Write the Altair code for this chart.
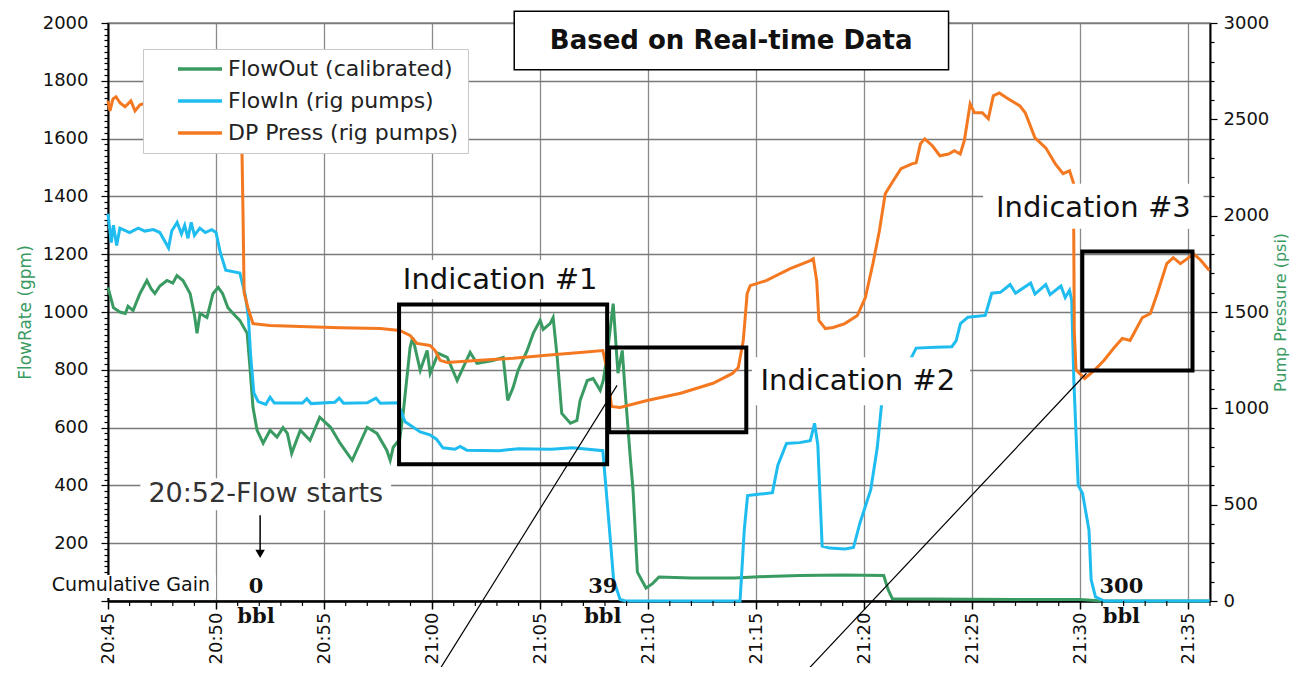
import datetime as dt
import altair as alt
import pandas as pd

SERIES = ["FlowOut (calibrated)", "FlowIn (rig pumps)", "DP Press (rig pumps)"]
COLORS = ["#3a9b62", "#1fbcf0", "#f47820"]

# time = minutes after 20:45, flow in gpm
flow_out_pts = [
    (0.0, 1085), (0.25, 1015), (0.55, 1000), (0.8, 995), (0.93, 1020), (1.16, 1005), (1.48, 1064),
    (1.8, 1109), (2.0, 1080), (2.17, 1064), (2.4, 1090), (2.73, 1109), (3.0, 1100), (3.19, 1126),
    (3.47, 1109), (3.8, 1064), (4.0, 990), (4.12, 926), (4.26, 995), (4.58, 981), (4.86, 1064),
    (5.1, 1085), (5.3, 1064), (5.55, 1015), (5.79, 995), (6.1, 971), (6.44, 926), (6.57, 808),
    (6.71, 670), (6.9, 591), (7.18, 546), (7.5, 591), (7.82, 567), (8.1, 600), (8.3, 580),
    (8.5, 511), (8.9, 591), (9.35, 556), (9.8, 636), (10.3, 601), (10.74, 546), (11.3, 487),
    (11.99, 601), (12.45, 580), (12.9, 522), (13.06, 487), (13.2, 532), (13.5, 560), (13.66, 649),
    (13.98, 877), (14.1, 912), (14.45, 798), (14.77, 867), (14.91, 788), (15.28, 857), (15.7, 843),
    (16.16, 763), (16.44, 808), (16.76, 860), (17.08, 822), (17.36, 826), (17.82, 832), (18.29, 843),
    (18.5, 694), (18.75, 739), (18.98, 798), (19.4, 867), (19.68, 926), (20.0, 971), (20.14, 940),
    (20.46, 960), (20.6, 981), (20.79, 843), (21.0, 649), (21.4, 615), (21.7, 625), (21.85, 694),
    (22.18, 763), (22.45, 770), (22.78, 729), (22.92, 763), (23.1, 850), (23.38, 1029), (23.6, 788),
    (23.8, 867), (23.93, 729), (24.17, 497), (24.3, 383), (24.5, 100), (24.9, 45), (25.2, 60),
    (25.5, 83), (27.0, 80), (29.0, 80), (30.5, 85), (32.0, 88), (34.0, 90), (35.9, 88), (36.1, 40),
    (36.3, 8), (40.0, 6), (45.0, 5), (46.0, 0), (51.0, 0),
]

flow_in_pts = [
    (0.0, 1340), (0.15, 1240), (0.25, 1300), (0.4, 1230), (0.55, 1290), (1.0, 1275), (1.4, 1290),
    (1.7, 1280), (2.1, 1285), (2.4, 1275), (2.8, 1222), (2.95, 1280), (3.2, 1310), (3.4, 1270),
    (3.55, 1300), (3.7, 1255), (3.85, 1310), (4.0, 1265), (4.25, 1290), (4.5, 1275), (4.8, 1285),
    (5.0, 1275), (5.2, 1205), (5.45, 1145), (6.1, 1135), (6.35, 1060), (6.5, 980), (6.6, 850),
    (6.75, 720), (6.95, 690), (7.3, 680), (7.5, 705), (7.7, 685), (9.0, 685), (9.2, 700),
    (9.4, 683), (10.5, 688), (10.7, 702), (10.9, 684), (12.0, 686), (12.4, 702), (12.6, 684),
    (13.4, 686), (13.75, 620), (14.45, 585), (14.9, 575), (15.2, 560), (15.5, 530), (16.05, 525),
    (16.3, 535), (16.6, 522), (18.1, 520), (19.0, 527), (20.5, 525), (21.5, 530), (22.9, 520),
    (23.15, 300), (23.4, 73), (23.7, 5), (23.95, 0), (29.25, 0), (29.45, 250), (29.6, 365),
    (30.2, 370), (30.75, 375), (31.0, 470), (31.4, 545), (32.0, 548), (32.5, 555), (32.7, 615),
    (32.85, 540), (33.05, 190), (33.4, 183), (34.1, 180), (34.5, 185), (34.8, 270), (35.3, 385),
    (35.6, 530), (35.8, 680), (37.2, 845), (37.4, 875), (38.3, 878), (39.05, 880), (39.25, 900),
    (39.45, 960), (39.8, 982), (40.6, 988), (40.9, 1065), (41.3, 1068), (41.75, 1095), (42.0, 1065),
    (42.7, 1100), (42.9, 1062), (43.4, 1095), (43.6, 1060), (44.1, 1090), (44.3, 1050), (44.5, 1075),
    (44.6, 1040), (44.7, 760), (44.9, 400), (45.1, 373), (45.4, 245), (45.5, 73), (45.7, 14),
    (46.1, 0), (51.0, 0),
]

# pump pressure in psi
press_pts = [
    (0.0, 2596), (0.09, 2544), (0.23, 2606), (0.37, 2617), (0.56, 2585), (0.79, 2565), (1.06, 2596),
    (1.25, 2544), (1.48, 2575), (1.62, 2580), (3.5, 2580), (6.11, 2575), (6.2, 2340), (6.25, 2000),
    (6.3, 1600), (6.48, 1520), (6.71, 1440), (7.5, 1430), (8.9, 1425), (10.74, 1418), (12.6, 1414),
    (13.5, 1404), (13.98, 1378), (14.3, 1337), (14.9, 1326), (15.14, 1300), (15.37, 1249),
    (15.7, 1238), (17.2, 1249), (18.75, 1260), (20.3, 1275), (21.85, 1290), (22.9, 1300),
    (23.1, 1200), (23.3, 1010), (23.7, 1005), (24.95, 1041), (26.5, 1078), (28.0, 1130),
    (28.9, 1181), (29.17, 1212), (29.4, 1352), (29.58, 1596), (29.72, 1637), (30.46, 1663),
    (31.57, 1725), (32.5, 1767), (32.64, 1777), (32.8, 1660), (32.9, 1456), (33.2, 1414),
    (33.56, 1420), (34.1, 1440), (34.68, 1482), (35.05, 1575), (35.4, 1751), (35.7, 1922),
    (35.97, 2114), (36.34, 2181), (36.7, 2244), (37.2, 2269), (37.4, 2275), (37.6, 2373),
    (37.8, 2399), (38.15, 2363), (38.5, 2311), (38.9, 2320), (39.17, 2337), (39.44, 2320),
    (39.63, 2389), (39.9, 2580), (40.1, 2534), (40.46, 2534), (40.74, 2503), (40.97, 2622),
    (41.25, 2637), (41.6, 2611), (42.2, 2570), (42.45, 2534), (42.9, 2404), (43.4, 2352),
    (43.84, 2269), (44.2, 2218), (44.5, 2233), (44.68, 2171), (44.72, 1400), (44.8, 1200),
    (45.2, 1155), (45.65, 1197), (46.1, 1250), (46.57, 1316), (46.94, 1363), (47.3, 1352),
    (47.87, 1471), (48.24, 1492), (48.56, 1596), (49.0, 1751), (49.3, 1782), (49.63, 1751),
    (49.95, 1777), (50.23, 1803), (50.56, 1770), (50.97, 1715),
]

x_major_minutes = list(range(0, 51, 5))
x_minor_minutes = [m for m in range(0, 52) if m % 5 != 0]
flow_ticks = list(range(0, 2001, 20))
press_ticks = list(range(0, 3001, 100))

# annotations (time in minutes after 20:45, flow in gpm)
ind_labels = ["Indication #1", "Indication #2", "Indication #3"]
ind_label_t = [18.15, 34.7, 45.6]
ind_label_f = [1112, 760, 1361]
ind_box_t1 = [13.47, 23.19, 45.09]
ind_box_t2 = [23.1, 29.54, 50.19]
ind_box_f1 = [473, 584, 798]
ind_box_f2 = [1026, 877, 1209]

bg_t1 = [13.6, 29.8, 40.5, 1.5, -2.9]
bg_t2 = [23.0, 39.9, 50.7, 13.1, 5.0]
bg_f1 = [1045, 677, 1288, 314, 10]
bg_f2 = [1180, 843, 1444, 425, 90]

gain_labels = ["0", "39", "300"]
gain_t = [6.85, 22.9, 46.9]
gain_f = [50, 50, 50]
bbl_f = [-55, -55, -55]

diag_t1 = [23.56, 45.28]
diag_f1 = [746, 788]
diag_t2 = [15.05, 31.94]
diag_f2 = [-273, -273]

title_text = "Based on Real-time Data"
title_box = dict(t1=18.8, t2=38.9, f1=1838, f2=2041)
title_pos = dict(t=28.84, f=1938)

flow_start_text = "20:52-Flow starts"
flow_start_pos = dict(t=7.3, f=370)
arrow = dict(t=7.04, f1=297, f2=170, tip=163)
gain_title = dict(t=-2.6, f=55, text="Cumulative Gain")
minor_tick_f = (0, -17)

# ---------------------------------------------------------------
BASE = dt.datetime(2000, 1, 1, 20, 45)


def ts(m):
    return (BASE + dt.timedelta(minutes=m)).isoformat(timespec="milliseconds")


def dtobj(m):
    d = BASE + dt.timedelta(minutes=m)
    return alt.DateTime(year=d.year, month=d.month, date=d.day, hours=d.hour, minutes=d.minute)


def pts_df(pts, name):
    return pd.DataFrame({"t": [ts(p[0]) for p in pts], "v": [p[1] for p in pts], "series": name})


flows = pd.concat([pts_df(flow_out_pts, SERIES[0]), pts_df(flow_in_pts, SERIES[1])])
press = pts_df(press_pts, SERIES[2])

FONT = "DejaVu Sans"
xs = alt.Scale(domain=[dtobj(0), dtobj(51)], nice=False)
fs = alt.Scale(domain=[0, 2000], nice=False)
ps = alt.Scale(domain=[0, 3000], nice=False)
color_scale = alt.Scale(domain=SERIES, range=COLORS)

legend = alt.Legend(
    title=None, orient="none", legendX=35, legendY=26, symbolType="stroke",
    symbolSize=1936, symbolStrokeWidth=3.5, labelFont=FONT, labelFontSize=22,
    labelColor="#222", padding=9, rowPadding=10, clipHeight=22, symbolOffset=24, labelOffset=4,
    fillColor="white", strokeColor="#c8c8c8", labelLimit=400, zindex=1,
)

x_axis = alt.Axis(
    values=[dtobj(m) for m in x_major_minutes], format="%H:%M",
    labelAngle=270, labelFont=FONT, labelFontSize=18, labelColor="#111", labelPadding=3,
    labelFlush=False, labelOverlap=False,
    tickSize=8, tickColor="black", tickWidth=1.5, domainColor="black", domainWidth=2.5,
    grid=True, gridColor="#8a8a8a", gridWidth=1.3,
    title=None,
)

left_axis = alt.Axis(
    orient="left", values=flow_ticks, format="d",
    labelExpr="datum.value % 200 === 0 && datum.value > 0 ? datum.label : ''",
    labelFont=FONT, labelFontSize=18, labelColor="#111", labelPadding=13,
    tickSize={"condition": {"test": "datum.value % 200 === 0", "value": 7}, "value": 4},
    tickColor="black", tickWidth=1.2, domainColor="black", domainWidth=2,
    grid=True, gridColor="#7a7a7a", gridWidth=1.5,
    gridOpacity={"condition": {"test": "datum.value % 200 === 0", "value": 1}, "value": 0},
    title="FlowRate (gpm)", titleColor="#3a9b62", titleFont=FONT, titleFontSize=17,
    titleFontWeight="normal", titleAngle=270, titleX=-83, titleY=289, titleBaseline="middle",
)

right_axis = alt.Axis(
    orient="right", values=press_ticks, format="d",
    labelExpr="datum.value % 500 === 0 ? datum.label : ''",
    labelFont=FONT, labelFontSize=18, labelColor="#111", labelPadding=6,
    tickSize={"condition": {"test": "datum.value % 500 === 0", "value": 7}, "value": 4},
    tickColor="black", tickWidth=1.2, domainColor="black", domainWidth=2, grid=False,
    title="Pump Pressure (psi)", titleColor="#3a9b62", titleFont=FONT, titleFontSize=16,
    titleFontWeight="normal", titleAngle=270, titleX=70, titleY=289, titleBaseline="middle",
)


def X(f):
    # every layer carries the same x axis definition so the shared axis merges cleanly
    return alt.X(f, scale=xs, axis=x_axis)


def Y(f):
    return alt.Y(f, scale=fs, axis=None)


flow_lines = alt.Chart(flows).mark_line(strokeWidth=3).encode(
    x=X("t:T"),
    y=alt.Y("v:Q", scale=fs, axis=left_axis),
    color=alt.Color("series:N", scale=color_scale, legend=legend),
)

press_line = alt.Chart(press).mark_line(strokeWidth=3).encode(
    x=X("t:T"),
    y=alt.Y("v:Q", scale=ps, axis=right_axis),
    color=alt.Color("series:N", scale=color_scale, legend=legend),
)

minor_df = pd.DataFrame({"t": [ts(m) for m in x_minor_minutes], "f1": minor_tick_f[0], "f2": minor_tick_f[1]})
minor_ticks = alt.Chart(minor_df).mark_rule(color="black", strokeWidth=1.2).encode(
    x=X("t:T"), y=Y("f1:Q"), y2="f2")

bg_df = pd.DataFrame({"t1": [ts(v) for v in bg_t1], "t2": [ts(v) for v in bg_t2], "f1": bg_f1, "f2": bg_f2})
bgs = alt.Chart(bg_df).mark_rect(fill="white").encode(
    x=X("t1:T"), x2="t2", y=Y("f1:Q"), y2="f2")

box_df = pd.DataFrame({"t1": [ts(v) for v in ind_box_t1], "t2": [ts(v) for v in ind_box_t2],
                       "f1": ind_box_f1, "f2": ind_box_f2})
boxes = alt.Chart(box_df).mark_rect(fillOpacity=0, stroke="black", strokeWidth=4).encode(
    x=X("t1:T"), x2="t2", y=Y("f1:Q"), y2="f2")

ind_df = pd.DataFrame({"t": [ts(v) for v in ind_label_t], "f": ind_label_f, "label": ind_labels})
ind_text = alt.Chart(ind_df).mark_text(font=FONT, fontSize=29, color="#111", align="center", baseline="middle").encode(
    x=X("t:T"), y=Y("f:Q"), text="label:N")

diag_df = pd.DataFrame({"t1": [ts(v) for v in diag_t1], "t2": [ts(v) for v in diag_t2],
                        "f1": diag_f1, "f2": diag_f2})
diags = alt.Chart(diag_df).mark_rule(color="black", strokeWidth=1.2).encode(
    x=X("t1:T"), x2="t2", y=Y("f1:Q"), y2="f2")

tb_df = pd.DataFrame([{"t1": ts(title_box["t1"]), "t2": ts(title_box["t2"]),
                       "f1": title_box["f1"], "f2": title_box["f2"]}])
tbox = alt.Chart(tb_df).mark_rect(fill="white", stroke="black", strokeWidth=1.5).encode(
    x=X("t1:T"), x2="t2", y=Y("f1:Q"), y2="f2")
tt_df = pd.DataFrame([{"t": ts(title_pos["t"]), "f": title_pos["f"], "label": title_text}])
ttext = alt.Chart(tt_df).mark_text(font=FONT, fontSize=26, fontWeight="bold", color="#111", align="center", baseline="middle").encode(
    x=X("t:T"), y=Y("f:Q"), text="label:N")

fs_df = pd.DataFrame([{"t": ts(flow_start_pos["t"]), "f": flow_start_pos["f"], "label": flow_start_text}])
fs_text = alt.Chart(fs_df).mark_text(font=FONT, fontSize=27, color="#333", align="center", baseline="middle").encode(
    x=X("t:T"), y=Y("f:Q"), text="label:N")

ar_df = pd.DataFrame([{"t": ts(arrow["t"]), "f1": arrow["f1"], "f2": arrow["f2"], "tip": arrow["tip"]}])
ar_line = alt.Chart(ar_df).mark_rule(color="black", strokeWidth=1.5).encode(
    x=X("t:T"), y=Y("f1:Q"), y2="f2")
ar_head = alt.Chart(ar_df).mark_point(shape="triangle-down", filled=True, color="black", size=90, opacity=1).encode(
    x=X("t:T"), y=Y("tip:Q"))

cg_df = pd.DataFrame([{"t": ts(gain_title["t"]), "f": gain_title["f"], "text": gain_title["text"]}])
cg_text = alt.Chart(cg_df).mark_text(font=FONT, fontSize=19, color="#111", align="left", baseline="middle").encode(
    x=X("t:T"), y=Y("f:Q"), text="text:N")

gain_df = pd.DataFrame({"t": [ts(v) for v in gain_t], "f": gain_f, "bf": bbl_f, "label": gain_labels})
gain_text = alt.Chart(gain_df).mark_text(font="DejaVu Serif", fontSize=21, fontWeight="bold", color="#111", align="center", baseline="middle").encode(
    x=X("t:T"), y=Y("f:Q"), text="label:N")
bbl_text = alt.Chart(gain_df).mark_text(font="DejaVu Serif", fontSize=21, fontWeight="bold", color="#111", align="center", baseline="middle", text="bbl").encode(
    x=X("t:T"), y=Y("bf:Q"))

chart = alt.layer(
    flow_lines, press_line, minor_ticks, bgs, boxes, diags, ind_text, tbox, ttext,
    fs_text, ar_line, ar_head, cg_text, gain_text, bbl_text,
).resolve_scale(y="independent").properties(
    width=1102, height=578,
    autosize=alt.AutoSizeParams(type="none"),
    padding={"left": 100, "top": 15, "right": 80, "bottom": 66},
).configure_view(stroke="#8c8c8c", strokeWidth=1.5)

chart.save("out.html", embed_options={"renderer": "svg", "actions": False})
